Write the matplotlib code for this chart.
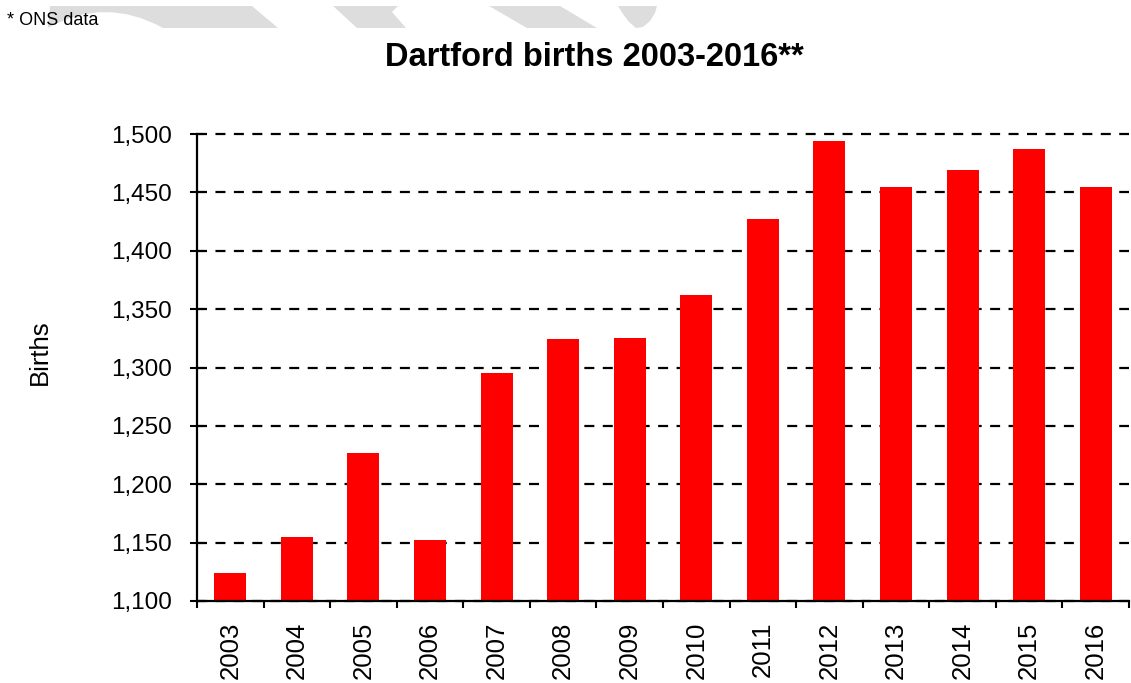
import matplotlib
matplotlib.use("Agg")
import matplotlib.pyplot as plt
from matplotlib.patches import Polygon, PathPatch
from matplotlib.path import Path

plt.rcParams['font.family'] = ['Liberation Sans', 'DejaVu Sans']

years = ['2003', '2004', '2005', '2006', '2007', '2008', '2009',
         '2010', '2011', '2012', '2013', '2014', '2015', '2016']
births = [1124, 1155, 1227, 1152, 1295, 1324, 1325,
          1362, 1427, 1494, 1455, 1469, 1487, 1455]
yticks = [1100, 1150, 1200, 1250, 1300, 1350, 1400, 1450, 1500]

W, H = 1131, 683
fig = plt.figure(figsize=(W / 100, H / 100), dpi=100)


def fx(x):
    return x / W


def fy(y):
    return 1 - y / H


# decorative grey header shapes
grey = '#dddddd'
verts = [(50, 6), (252, 6), (278, 28), (163, 28), (105, -4), (48, 28), (50, 6)]
codes = [Path.MOVETO, Path.LINETO, Path.LINETO, Path.LINETO,
         Path.CURVE3, Path.CURVE3, Path.CLOSEPOLY]
p = Path([(fx(a), fy(b)) for a, b in verts], codes)
fig.patches.append(PathPatch(p, transform=fig.transFigure, fc=grey, ec='none', zorder=0))
for poly in [
    [(333, 6), (398, 6), (392, 12), (406, 28), (357, 28)],
    [(489, 6), (560, 6), (597, 28), (527, 28)],
    [(618, 6), (657, 6), (655, 13), (650, 21), (643, 27), (636, 28),
     (629, 22), (623, 14)],
]:
    fig.patches.append(Polygon([(fx(a), fy(b)) for a, b in poly], closed=True,
                               transform=fig.transFigure, fc=grey, ec='none', zorder=0))

fig.text(fx(7), fy(25), '* ONS data', fontsize=13, ha='left', va='baseline')
fig.text(fx(594), fy(57), 'Dartford births 2003-2016**', fontsize=23.5,
         fontweight='bold', ha='center', va='center')
fig.text(fx(40), fy(352), 'Births', fontsize=18.5, rotation=90,
         ha='center', va='center')

ax = fig.add_axes([fx(197), fy(601), fx(1129) - fx(197), fy(134) - fy(601)])
x = list(range(len(years)))
ax.bar(x, births, width=0.48, color='#ff0000', zorder=2)
ax.set_xlim(-0.5, len(years) - 0.5)
ax.set_ylim(1100, 1500)
ax.set_yticks(yticks)
ax.set_yticklabels([f'{v:,}' for v in yticks])
ax.set_axisbelow(True)
ax.yaxis.grid(True, color='black', linewidth=1.6, linestyle=(0, (4.5, 3.8)))
ax.xaxis.grid(False)
for gl in ax.get_ygridlines():
    gl.set_clip_on(False)

ax.set_xticks([i - 0.5 for i in range(len(years) + 1)])
ax.set_xticklabels([])
ax.set_xticks(x, minor=True)
ax.set_xticklabels(years, minor=True, rotation=90, fontsize=18.5)
ax.tick_params(axis='x', which='minor', length=0, pad=15)
ax.tick_params(axis='x', which='major', length=5, width=1.5, direction='out')
ax.tick_params(axis='y', length=10, width=1.5, direction='inout', labelsize=17.5, pad=13)

for s in ['top', 'right']:
    ax.spines[s].set_visible(False)
for s in ['left', 'bottom']:
    ax.spines[s].set_linewidth(1.6)

fig.savefig('out.png', dpi=100)
